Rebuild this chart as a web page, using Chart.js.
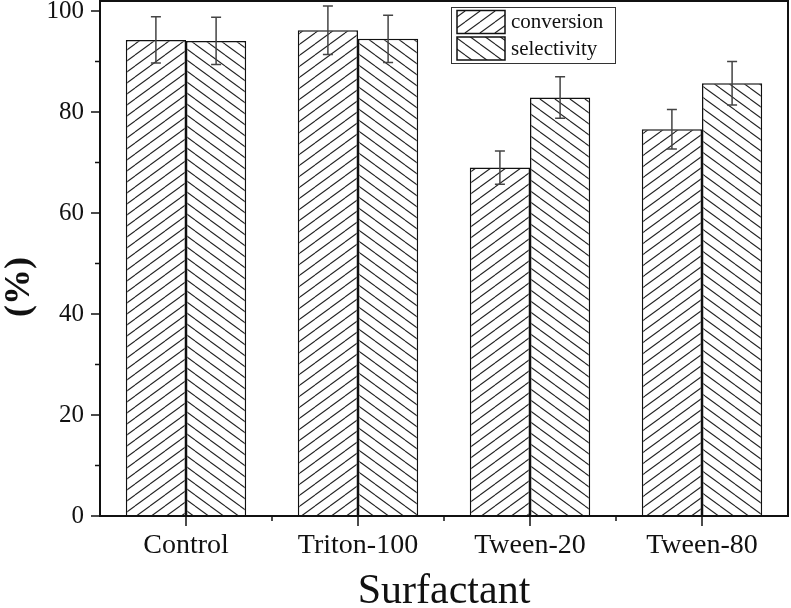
<!DOCTYPE html>
<html>
<head>
<meta charset="utf-8">
<script src="https://cdn.jsdelivr.net/npm/chart.js@4"></script>
<style>
  body { margin: 0; background: #fff; }
  canvas { display: block; }
</style>
</head>
<body>
<canvas id="c" width="791" height="608"></canvas>
<script>
// data
const categories = ['Control', 'Triton-100', 'Tween-20', 'Tween-80'];
const conversion = [94.3, 96.2, 69.0, 76.6];
const conversionErr = [4.6, 4.8, 3.3, 3.9];
const selectivity = [94.1, 94.5, 82.9, 85.7];
const selectivityErr = [4.7, 4.7, 4.1, 4.3];
const yTicks = [0, 20, 40, 60, 80, 100];
const yMinorTicks = [10, 30, 50, 70, 90];

const canvas = document.getElementById('c');
const ctx = canvas.getContext('2d');
const FONT = '"Liberation Serif", "Times New Roman", serif';

// hatch fill: '/' for conversion, '\' for selectivity
function makeHatch(dir) {
    const w = 15, h = 11;
    const tile = document.createElement('canvas');
    tile.width = w; tile.height = h;
    const g = tile.getContext('2d');
    g.fillStyle = '#fff';
    g.fillRect(0, 0, w, h);
    g.strokeStyle = '#222';
    g.lineWidth = 1.1;
    [-1, 0, 1].forEach(function(k) {
        g.beginPath();
        if (dir === '/') { g.moveTo(0, h + k * h); g.lineTo(w, k * h); }
        else { g.moveTo(0, k * h); g.lineTo(w, h + k * h); }
        g.stroke();
    });
    return ctx.createPattern(tile, 'repeat');
}

const hatchA = makeHatch('/');
const hatchB = makeHatch('\\');

// error bars, ticks, frame, legend and y title
const decorations = {
    id: 'decorations',
    afterDatasetsDraw(chart) {
        const c = chart.ctx;
        const y = chart.scales.y;
        c.save();
        c.strokeStyle = '#444';
        c.lineWidth = 1.5;
        chart.data.datasets.forEach(function(ds, di) {
            const meta = chart.getDatasetMeta(di);
            meta.data.forEach(function(bar, i) {
                const top = y.getPixelForValue(ds.data[i] + ds.errors[i]);
                const bot = y.getPixelForValue(ds.data[i] - ds.errors[i]);
                c.beginPath();
                c.moveTo(bar.x, top); c.lineTo(bar.x, bot);
                c.moveTo(bar.x - 5, top); c.lineTo(bar.x + 5, top);
                c.moveTo(bar.x - 5, bot); c.lineTo(bar.x + 5, bot);
                c.stroke();
            });
        });
        c.restore();
    },
    afterDraw(chart) {
        const c = chart.ctx;
        const a = chart.chartArea;
        const x = chart.scales.x, y = chart.scales.y;
        c.save();
        c.strokeStyle = '#111';
        c.lineWidth = 2;
        c.strokeRect(a.left, a.top, a.right - a.left, a.bottom - a.top);

        c.lineWidth = 1.5;
        c.beginPath();
        yTicks.forEach(function(v) {
            const p = y.getPixelForValue(v);
            c.moveTo(a.left - 9, p); c.lineTo(a.left, p);
        });
        yMinorTicks.forEach(function(v) {
            const p = y.getPixelForValue(v);
            c.moveTo(a.left - 5, p); c.lineTo(a.left, p);
        });
        categories.forEach(function(cat, i) {
            const p = x.getPixelForValue(i);
            c.moveTo(p, a.bottom); c.lineTo(p, a.bottom + 10);
            if (i < categories.length - 1) {
                const m = (p + x.getPixelForValue(i + 1)) / 2;
                c.moveTo(m, a.bottom); c.lineTo(m, a.bottom + 5);
            }
        });
        c.stroke();

        // legend
        c.lineWidth = 1;
        c.strokeStyle = '#333';
        c.strokeRect(451.5, 7.5, 164, 56);
        c.font = '21px ' + FONT;
        c.textBaseline = 'middle';
        c.textAlign = 'left';
        chart.data.datasets.forEach(function(ds, di) {
            const top = 10.5 + di * 26.5;
            c.fillStyle = ds.backgroundColor;
            c.fillRect(457, top, 48, 23);
            c.strokeStyle = '#111';
            c.lineWidth = 1.5;
            c.strokeRect(457, top, 48, 23);
            c.fillStyle = '#111';
            c.fillText(ds.label, 511, top + 12);
        });

        // y axis title
        c.translate(20, 287);
        c.rotate(-Math.PI / 2);
        c.font = 'bold 36px ' + FONT;
        c.textAlign = 'center';
        c.fillText('(%)', 0, 0);
        c.restore();
    }
};

new Chart(canvas, {
    type: 'bar',
    data: {
        labels: categories,
        datasets: [{
            label: 'conversion',
            data: conversion,
            errors: conversionErr,
            backgroundColor: hatchA,
            borderColor: '#111',
            borderWidth: 1.5
        }, {
            label: 'selectivity',
            data: selectivity,
            errors: selectivityErr,
            backgroundColor: hatchB,
            borderColor: '#111',
            borderWidth: 1.5
        }]
    },
    options: {
        responsive: false,
        devicePixelRatio: 1,
        animation: false,
        layout: { padding: { top: 1, right: 3, left: 0, bottom: 0 } },
        datasets: {
            bar: { categoryPercentage: 0.7, barPercentage: 1.0 }
        },
        plugins: {
            legend: { display: false },
            tooltip: { enabled: false }
        },
        scales: {
            x: {
                grid: { display: false, drawTicks: false },
                border: { display: false },
                ticks: {
                    padding: 13,
                    color: '#111',
                    font: { family: FONT, size: 28 }
                },
                title: {
                    display: true,
                    text: 'Surfactant',
                    color: '#111',
                    padding: 0,
                    font: { family: FONT, size: 42, lineHeight: 0.75 }
                },
                afterFit: function(scale) {
                    scale.height = 92;
                    scale.paddingLeft = 0;
                    scale.paddingRight = 0;
                }
            },
            y: {
                min: 0,
                max: 102,
                grid: { display: false, drawTicks: false },
                border: { display: false },
                afterBuildTicks: function(scale) {
                    scale.ticks = yTicks.map(function(v) { return { value: v }; });
                },
                ticks: {
                    padding: 16,
                    color: '#111',
                    font: { family: FONT, size: 25 }
                },
                afterFit: function(scale) {
                    scale.width = 100;
                    scale.paddingTop = 0;
                    scale.paddingBottom = 0;
                }
            }
        }
    },
    plugins: [decorations]
});
</script>
</body>
</html>
